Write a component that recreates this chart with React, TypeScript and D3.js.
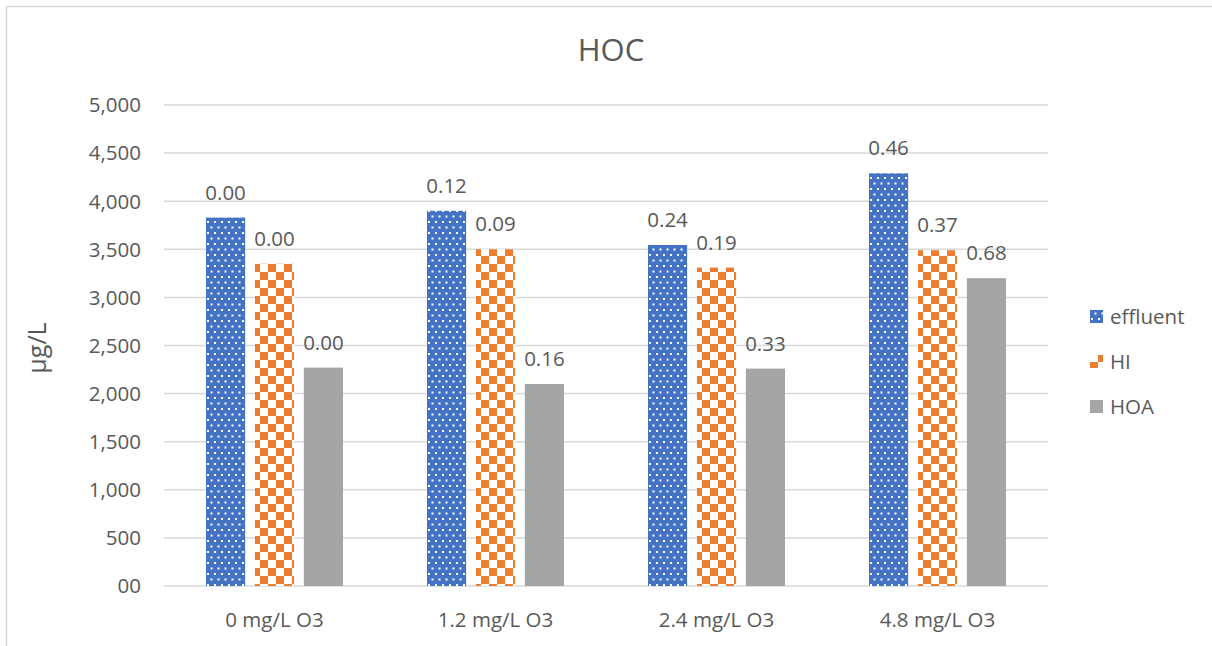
import React from "react";
import * as d3 from "d3";

const categories = ["0 mg/L O3", "1.2 mg/L O3", "2.4 mg/L O3", "4.8 mg/L O3"];
const seriesNames = ["effluent", "HI", "HOA"];
const effluent = [3830, 3900, 3545, 4290];
const hi = [3350, 3500, 3310, 3490];
const hoa = [2270, 2100, 2260, 3200];
const effluentLabels = ["0.00", "0.12", "0.24", "0.46"];
const hiLabels = ["0.00", "0.09", "0.19", "0.37"];
const hoaLabels = ["0.00", "0.16", "0.33", "0.68"];
const yTicks = [0, 500, 1000, 1500, 2000, 2500, 3000, 3500, 4000, 4500, 5000];

const W = 1212;
const H = 646;
const FONT = "'Open Sans', sans-serif";
const TEXT = "#595959";

const App = () => {
  const margin = { left: 164, right: 1048, top: 105, bottom: 586 };

  const x0 = d3.scaleBand().domain(categories).range([margin.left, margin.right]);
  const x1 = d3
    .scaleBand()
    .domain(seriesNames)
    .range([42, x0.bandwidth() - 42])
    .paddingInner(0.2);
  const y = d3.scaleLinear().domain([0, 5000]).range([margin.bottom, margin.top]);

  // Excel shows the zero tick as "00"
  const fmt = (v: number) => (v === 0 ? "00" : d3.format(",")(v));

  const series = [
    { name: "effluent", values: effluent, labels: effluentLabels, fill: "url(#dots)" },
    { name: "HI", values: hi, labels: hiLabels, fill: "url(#checker)" },
    { name: "HOA", values: hoa, labels: hoaLabels, fill: "#A5A5A5" },
  ];

  return (
    <svg width={W} height={H} style={{ position: "absolute", left: 0, top: 0, background: "#fff" }} fontFamily={FONT}>
      <defs>
        <pattern id="dots" patternUnits="userSpaceOnUse" width={7} height={11}>
          <rect width={7} height={11} fill="#4472C4" />
          <rect x={1} y={1} width={2} height={2} fill="#fff" />
          <rect x={4.5} y={6.5} width={2} height={2} fill="#fff" />
        </pattern>
        <pattern id="checker" patternUnits="userSpaceOnUse" width={16} height={16}>
          <rect width={16} height={16} fill="#fff" />
          <rect x={0} y={0} width={8} height={8} fill="#ED7D31" />
          <rect x={8} y={8} width={8} height={8} fill="#ED7D31" />
        </pattern>
      </defs>

      <rect x={0} y={0} width={W} height={H} fill="#fff" />
      <rect x={6.5} y={6.5} width={W + 20} height={H + 20} fill="#fff" stroke="#d9d9d9" strokeWidth={1.5} />

      {/* Title */}
      <text x={611} y={61} textAnchor="middle" fontSize={31} fill={TEXT}>
        HOC
      </text>

      {/* Gridlines and y ticks */}
      {yTicks.map((t) => (
        <g key={t}>
          <line x1={margin.left} x2={margin.right} y1={y(t)} y2={y(t)} stroke="#d9d9d9" strokeWidth={1.5} />
          <text x={141} y={y(t)} dy="0.36em" textAnchor="end" fontSize={20.5} fill={TEXT}>
            {fmt(t)}
          </text>
        </g>
      ))}

      {/* Y axis title */}
      <text transform={`translate(46, 348) rotate(-90)`} textAnchor="middle" fontSize={25} fill={TEXT}>
        µg/L
      </text>

      {/* Bars */}
      {categories.map((c, i) => (
        <g key={c} transform={`translate(${x0(c)}, 0)`}>
          {series.map((s) => (
            <g key={s.name}>
              <rect
                x={x1(s.name)}
                y={y(s.values[i])}
                width={x1.bandwidth()}
                height={y(0) - y(s.values[i])}
                fill={s.fill}
              />
              <text
                x={(x1(s.name) as number) + x1.bandwidth() / 2}
                y={y(s.values[i]) - 18}
                textAnchor="middle"
                fontSize={20.5}
                fill={TEXT}
              >
                {s.labels[i]}
              </text>
            </g>
          ))}
          <text x={x0.bandwidth() / 2} y={627} textAnchor="middle" fontSize={20.5} fill={TEXT}>
            {c}
          </text>
        </g>
      ))}

      {/* Legend */}
      {series.map((s, i) => (
        <g key={s.name} transform={`translate(1090, ${317 + i * 45})`}>
          <rect x={0} y={-7} width={13} height={13} fill={s.fill} />
          <text x={20} y={0} dy="0.36em" fontSize={20.5} fill={TEXT}>
            {s.name}
          </text>
        </g>
      ))}
    </svg>
  );
};

export default App;
